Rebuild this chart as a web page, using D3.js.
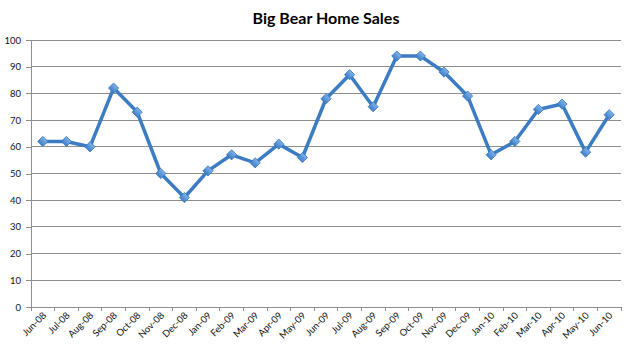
<!DOCTYPE html>
<html><head><meta charset="utf-8">
<script src="https://cdn.jsdelivr.net/npm/d3@7"></script>
<style>
html,body{margin:0;padding:0;background:#fff;}
svg{display:block;font-family:Lato,"Open Sans",sans-serif;}
</style></head>
<body><svg id="c" width="629" height="355"></svg>
<script>
const title = "Big Bear Home Sales";
const months = ["Jun-08","Jul-08","Aug-08","Sep-08","Oct-08","Nov-08","Dec-08","Jan-09","Feb-09","Mar-09","Apr-09","May-09","Jun-09","Jul-09","Aug-09","Sep-09","Oct-09","Nov-09","Dec-09","Jan-10","Feb-10","Mar-10","Apr-10","May-10","Jun-10"];
const sales = [62,62,60,82,73,50,41,51,57,54,61,56,78,87,75,94,94,88,79,57,62,74,76,58,72];
const yTicks = [0,10,20,30,40,50,60,70,80,90,100];

const W = 629, H = 355;
const m = {top:40, right:8, bottom:48, left:31};
const svg = d3.select("#c");

const x = d3.scaleBand().domain(months).range([m.left, W - m.right]).padding(0);
const y = d3.scaleLinear().domain([0,100]).range([H - m.bottom, m.top]);
const cx = d => x(d) + x.bandwidth()/2;

// gridlines
svg.append("g").selectAll("line").data(yTicks.filter(t => t > 0)).join("line")
  .attr("x1", m.left).attr("x2", W - m.right)
  .attr("y1", d => y(d)).attr("y2", d => y(d))
  .attr("stroke", "#8e8e8e").attr("stroke-width", 1).attr("shape-rendering","crispEdges");

// y axis
const ya = svg.append("g").attr("transform", `translate(${m.left},0)`)
  .call(d3.axisLeft(y).tickValues(yTicks).tickSize(5).tickPadding(5).tickFormat(d3.format("d")));
ya.select(".domain").attr("stroke", "#8e8e8e").attr("shape-rendering","crispEdges");
ya.selectAll(".tick line").attr("stroke", "#8e8e8e").attr("shape-rendering","crispEdges");
ya.selectAll(".tick text").attr("fill", "#111").style("font-size","9.5px").style("font-family","Lato,sans-serif");

// x axis
const xa = svg.append("g");
xa.append("line").attr("x1", m.left).attr("x2", W - m.right)
  .attr("y1", y(0)).attr("y2", y(0)).attr("stroke", "#8e8e8e").attr("shape-rendering","crispEdges");
const bounds = months.map(d => x(d)).concat([x(months[months.length-1]) + x.bandwidth()]);
xa.selectAll("line.tk").data(bounds).join("line").attr("class","tk")
  .attr("x1", d => d).attr("x2", d => d)
  .attr("y1", y(0)).attr("y2", y(0) + 4)
  .attr("stroke", "#8e8e8e").attr("shape-rendering","crispEdges");
xa.selectAll("text").data(months).join("text")
  .attr("transform", d => `translate(${cx(d) + 4},${y(0) + 9}) rotate(-45)`)
  .attr("text-anchor", "end")
  .attr("fill", "#111")
  .style("font-size", "9.5px")
  .text(d => d);

// title
svg.append("text").attr("x", (m.left + W - m.right)/2 + 0).attr("y", 24)
  .attr("text-anchor", "middle").style("font-size","16px").style("font-weight","bold")
  .attr("fill","#000").text(title);

// gradient for markers
const defs = svg.append("defs");
const g = defs.append("linearGradient").attr("id","mk").attr("x1","0").attr("y1","0").attr("x2","0").attr("y2","1");
g.append("stop").attr("offset","0%").attr("stop-color","#7fb2ea");
g.append("stop").attr("offset","100%").attr("stop-color","#3f7fc8");

// line
const line = d3.line().x((d,i) => cx(months[i])).y(d => y(d));
svg.append("path").datum(sales).attr("d", line)
  .attr("fill","none").attr("stroke","#3c7cc3").attr("stroke-width",3.5)
  .attr("stroke-linejoin","round");

// markers
svg.append("g").selectAll("path").data(sales).join("path")
  .attr("transform", (d,i) => `translate(${cx(months[i])},${y(d)}) rotate(45)`)
  .attr("d", d3.symbol(d3.symbolSquare, 52)())
  .attr("fill","url(#mk)").attr("stroke","#3a77bb").attr("stroke-width",0.8);
</script></body></html>
